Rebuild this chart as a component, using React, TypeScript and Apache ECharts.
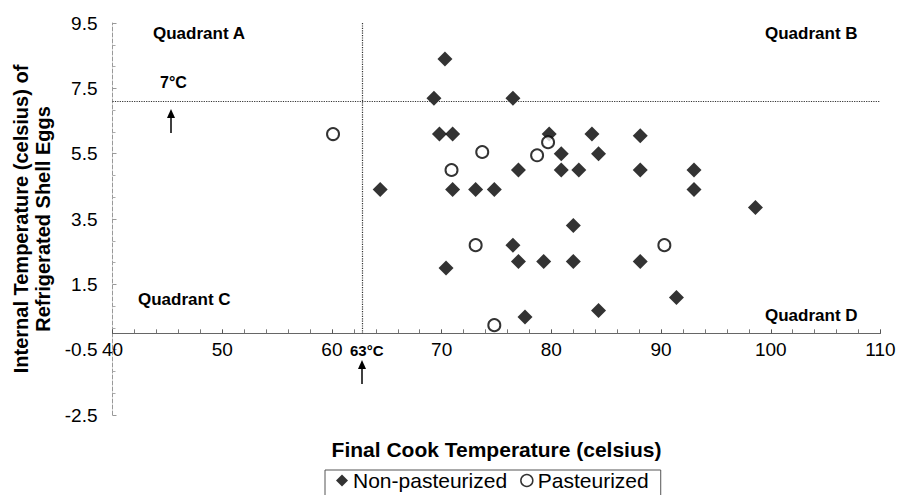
import React, { useEffect, useRef } from "react";
import * as echarts from "echarts";

// Final cook temperature (°C) vs internal temperature of refrigerated shell eggs (°C)
const nonPasteurized: [number, number][] = [
  [70.3, 8.4], [69.3, 7.2], [76.5, 7.2], [69.8, 6.1], [71.0, 6.1], [79.8, 6.1],
  [83.7, 6.1], [88.1, 6.05], [80.9, 5.5], [84.3, 5.5], [77.0, 5.0], [80.9, 5.0],
  [82.5, 5.0], [88.1, 5.0], [93.0, 5.0], [64.4, 4.4], [71.0, 4.4], [73.1, 4.4],
  [74.8, 4.4], [93.0, 4.4], [98.6, 3.85], [82.0, 3.3], [76.5, 2.7], [77.0, 2.2],
  [79.3, 2.2], [82.0, 2.2], [88.1, 2.2], [70.4, 2.0], [91.4, 1.1], [84.3, 0.7],
  [77.6, 0.5],
];
const pasteurized: [number, number][] = [
  [60.1, 6.1], [79.7, 5.85], [73.7, 5.55], [78.7, 5.45], [70.9, 5.0],
  [73.1, 2.7], [90.3, 2.7], [74.8, 0.25],
];
const seriesNames = ["Non-pasteurized", "Pasteurized"];
const cookLine = 62.8; // 63 °C
const storageLine = 7.1; // 7 °C
const xRange = [40, 110];
const yRange = [-2.5, 9.5];

const FONT = "'Liberation Sans', Arial, sans-serif";
const GRID_TOP = 23;
const GRID_BOTTOM = 80;
const CHART_H = 495;

export default function App() {
  const ref = useRef<HTMLDivElement>(null);
  useEffect(() => {
    if (!ref.current) return;
    const chart = echarts.init(ref.current, undefined, { renderer: "svg" });
    // x-axis crosses the y-axis at 0: shift it up from the grid bottom
    const plotH = CHART_H - GRID_TOP - GRID_BOTTOM;
    const zeroShift = (plotH * (0 - yRange[0])) / (yRange[1] - yRange[0]);
    const boldText = (text: string, x: number, y: number, size: number) => ({
      type: "text",
      x,
      y,
      silent: true,
      style: {
        text,
        fill: "#000",
        font: `bold ${size}px ${FONT}`,
        verticalAlign: "middle",
        align: "left",
      },
    });
    const arrow = (x: number, tip: number, end: number) => ({
      type: "group",
      silent: true,
      children: [
        {
          type: "line",
          shape: { x1: x, y1: tip + 6, x2: x, y2: end },
          style: { stroke: "#000", lineWidth: 1.5 },
        },
        {
          type: "polygon",
          shape: { points: [[x, tip], [x - 4, tip + 9], [x + 4, tip + 9]] },
          style: { fill: "#000" },
        },
      ],
    });
    chart.setOption({
      animation: false,
      textStyle: { fontFamily: FONT },
      grid: {
        left: 112.5,
        right: 26.5,
        top: GRID_TOP,
        bottom: GRID_BOTTOM,
        containLabel: false,
        outerBoundsMode: "none",
      },
      xAxis: {
        type: "value",
        min: xRange[0],
        max: xRange[1],
        interval: 10,
        offset: -zeroShift,
        name: "Final Cook Temperature (celsius)",
        nameLocation: "middle",
        nameGap: 106,
        nameTextStyle: { fontSize: 21, fontWeight: "bold", color: "#000", fontFamily: FONT },
        axisLine: { onZero: false, lineStyle: { color: "#666", width: 1 } },
        axisTick: { show: true, inside: true, length: 4, lineStyle: { color: "#555" } },
        minorTick: { show: true, splitNumber: 5, length: 4, lineStyle: { color: "#777" } },
        axisLabel: { fontSize: 19, color: "#000", margin: 7, fontFamily: FONT },
        splitLine: { show: false },
      },
      yAxis: {
        type: "value",
        min: yRange[0],
        max: yRange[1],
        interval: 2,
        name: "Internal Temperature (celsius) of\nRefrigerated Shell Eggs",
        nameLocation: "middle",
        nameGap: 54,
        nameTextStyle: {
          fontSize: 20,
          fontWeight: "bold",
          color: "#000",
          lineHeight: 22,
          fontFamily: FONT,
        },
        axisLine: { show: true, onZero: false, lineStyle: { color: "#999", type: "dashed", width: 1 } },
        axisTick: { show: true, inside: true, length: 4, lineStyle: { color: "#999" } },
        minorTick: { show: true, splitNumber: 3, length: 3, lineStyle: { color: "#aaa" } },
        axisLabel: { fontSize: 19, color: "#000", margin: 15, fontFamily: FONT },
        splitLine: { show: false },
      },
      legend: {
        left: 325,
        top: 470,
        orient: "horizontal",
        padding: [0, 12, 8, 11],
        itemGap: 13,
        itemWidth: 12,
        itemHeight: 12,
        borderColor: "#555",
        borderWidth: 1,
        borderRadius: 0,
        textStyle: { fontSize: 21, color: "#000", lineHeight: 17, fontFamily: FONT },
        data: [
          { name: seriesNames[0], icon: "diamond" },
          { name: seriesNames[1], icon: "circle", itemStyle: { color: "#fff", borderColor: "#000", borderWidth: 1.5 } },
        ],
      },
      graphic: [
        boldText("Quadrant A", 153, 33, 17),
        boldText("Quadrant B", 765, 33, 17),
        boldText("Quadrant C", 138, 299, 17),
        boldText("Quadrant D", 765, 315, 17),
        boldText("7°C", 160, 82, 16),
        boldText("63°C", 350, 350, 15),
        arrow(171, 109, 133),
        arrow(362, 360, 384),
      ],
      series: [
        {
          name: seriesNames[0],
          type: "scatter",
          symbol: "diamond",
          symbolSize: 15,
          itemStyle: { color: "#000" },
          data: nonPasteurized,
          z: 3,
          markLine: {
            silent: true,
            symbol: "none",
            label: { show: false },
            lineStyle: { color: "#333", type: "dotted", width: 1.2 },
            data: [
              [{ coord: [xRange[0], storageLine] }, { coord: [xRange[1], storageLine] }],
              [{ coord: [cookLine, yRange[1]] }, { coord: [cookLine, 0] }],
            ],
          },
        },
        {
          name: seriesNames[1],
          type: "scatter",
          symbol: "circle",
          symbolSize: 12,
          itemStyle: { color: "#fff", borderColor: "#000", borderWidth: 2 },
          data: pasteurized,
          z: 4,
        },
      ],
    });
    return () => chart.dispose();
  }, []);
  return (
    <div
      ref={ref}
      style={{ position: "fixed", left: 0, top: 0, width: 907, height: 495, background: "#fff" }}
    />
  );
}
